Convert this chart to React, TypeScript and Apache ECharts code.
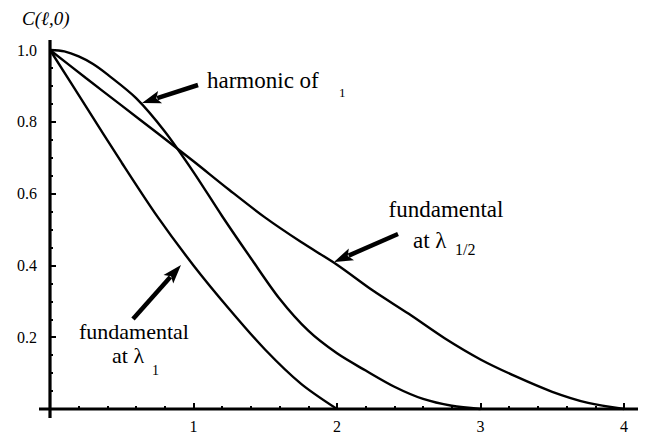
import { useEffect, useRef } from "react";
import * as echarts from "echarts";

// Curve data (x = ℓ, y = C(ℓ,0))
const fundamental1X = [0, 0.25, 0.5, 0.75, 1, 1.25, 1.5, 1.75, 2];
const fundamental1Y = [1, 0.843, 0.686, 0.535, 0.4, 0.278, 0.165, 0.07, 0];

const harmonicX = [0, 0.1, 0.2, 0.3, 0.4, 0.6, 0.8, 1.0, 1.2, 1.4, 1.6, 1.8, 2.0, 2.2, 2.4, 2.6, 2.8, 3.0];
const harmonicY = [1, 0.996, 0.982, 0.961, 0.932, 0.866, 0.773, 0.66, 0.537, 0.42, 0.307, 0.218, 0.155, 0.107, 0.062, 0.028, 0.009, 0];

const fundamentalHalfX = [0, 0.25, 0.5, 0.75, 1, 1.25, 1.5, 1.75, 2, 2.25, 2.5, 2.75, 3, 3.25, 3.5, 3.75, 4];
const fundamentalHalfY = [1, 0.922, 0.845, 0.768, 0.69, 0.61, 0.533, 0.465, 0.402, 0.33, 0.265, 0.197, 0.138, 0.09, 0.048, 0.017, 0];

const xMin = 0;
const xMax = 4;
const xStep = 1;
const yMin = 0;
const yMax = 1;
const yStep = 0.2;

const SERIF = "Liberation Serif";

function pairs(xs: number[], ys: number[]) {
  return xs.map((x, i) => [x, ys[i]]);
}

function arrow(tx: number, ty: number, hx: number, hy: number) {
  const dx = hx - tx;
  const dy = hy - ty;
  const L = Math.hypot(dx, dy);
  const ux = dx / L;
  const uy = dy / L;
  const headLen = 19;
  const headW = 6.5;
  const bx = hx - ux * headLen;
  const by = hy - uy * headLen;
  const px = -uy;
  const py = ux;
  return [
    {
      type: "line",
      shape: { x1: tx, y1: ty, x2: bx + ux * 3, y2: by + uy * 3 },
      style: { stroke: "#000", lineWidth: 4.5 },
    },
    {
      type: "polygon",
      shape: {
        points: [
          [hx, hy],
          [bx + px * headW, by + py * headW],
          [bx + ux * 4, by + uy * 4],
          [bx - px * headW, by - py * headW],
        ],
      },
      style: { fill: "#000" },
    },
  ];
}

function text(str: string, x: number, y: number, size: number, align: string = "left", italic = false) {
  return {
    type: "text",
    x,
    y,
    style: {
      text: str,
      fill: "#000",
      fontSize: size,
      fontFamily: SERIF,
      fontStyle: italic ? "italic" : "normal",
      textAlign: align,
      textVerticalAlign: "middle",
    },
  };
}

export default function App() {
  const ref = useRef<HTMLDivElement>(null);

  useEffect(() => {
    if (!ref.current) return;
    const chart = echarts.init(ref.current, undefined, { renderer: "svg" });
    const lineStyle = { color: "#000", width: 2.4 };
    chart.setOption({
      animation: false,
      backgroundColor: "#fff",
      textStyle: { fontFamily: SERIF },
      grid: { left: 50, right: 26, top: 50, bottom: 26, containLabel: false },
      xAxis: {
        type: "value",
        min: xMin,
        max: xMax,
        interval: xStep,
        axisLine: { show: false },
        axisTick: { show: true, inside: true, length: 6, lineStyle: { color: "#000", width: 2 } },
        minorTick: { show: true, splitNumber: 5, length: 3, lineStyle: { color: "#000", width: 2 } },
        splitLine: { show: false },
        minorSplitLine: { show: false },
        axisLabel: {
          color: "#000",
          fontSize: 16,
          fontFamily: SERIF,
          margin: 9,
          formatter: (v: number) => (v === 0 ? "" : String(v)),
        },
      },
      yAxis: {
        type: "value",
        min: yMin,
        max: yMax,
        interval: yStep,
        axisLine: { show: false },
        axisTick: { show: true, inside: true, length: 6, lineStyle: { color: "#000", width: 2 } },
        minorTick: { show: true, splitNumber: 4, length: 3, lineStyle: { color: "#000", width: 2 } },
        splitLine: { show: false },
        minorSplitLine: { show: false },
        axisLabel: {
          color: "#000",
          fontSize: 16,
          fontFamily: SERIF,
          margin: 13,
          formatter: (v: number) => (v === 0 ? "" : v.toFixed(1)),
        },
      },
      series: [
        {
          type: "line",
          name: "fundamental at λ1",
          data: pairs(fundamental1X, fundamental1Y),
          showSymbol: false,
          smooth: 0.3,
          clip: false,
          lineStyle,
        },
        {
          type: "line",
          name: "harmonic",
          data: pairs(harmonicX, harmonicY),
          showSymbol: false,
          smooth: 0.3,
          clip: false,
          lineStyle,
        },
        {
          type: "line",
          name: "fundamental at λ1/2",
          data: pairs(fundamentalHalfX, fundamentalHalfY),
          showSymbol: false,
          smooth: 0.3,
          clip: false,
          lineStyle,
        },
      ],
    });

    const o = chart.convertToPixel({ gridIndex: 0 }, [xMin, yMin]) as number[];
    const t = chart.convertToPixel({ gridIndex: 0 }, [xMin, yMax]) as number[];
    const r = chart.convertToPixel({ gridIndex: 0 }, [xMax, yMin]) as number[];

    const graphic: any[] = [
      {
        type: "line",
        shape: { x1: o[0] - 11, y1: o[1], x2: r[0] + 14, y2: o[1] },
        style: { stroke: "#000", lineWidth: 3.2 },
        z: 10,
      },
      {
        type: "line",
        shape: { x1: o[0], y1: t[1] - 10, x2: o[0], y2: o[1] + 9 },
        style: { stroke: "#000", lineWidth: 3.2 },
        z: 10,
      },
      text("C(ℓ,0)", 22, 18, 19, "left", true),
      text("harmonic of", 207, 80.5, 23),
      text("1", 339, 92, 13),
      text("fundamental", 446, 209.5, 23, "center"),
      text("at λ", 413, 240.5, 23),
      text("1/2", 455, 249, 16),
      text("fundamental", 134, 331, 22, "center"),
      text("at λ", 112, 355, 22),
      text("1", 152, 370, 14),
      ...arrow(198, 85, 142, 103),
      ...arrow(398, 234, 334, 262),
      ...arrow(133, 319, 181, 265),
    ];
    chart.setOption({ graphic });

    return () => chart.dispose();
  }, []);

  return (
    <div
      ref={ref}
      style={{ position: "fixed", left: 0, top: 0, width: 650, height: 435, background: "#fff" }}
    />
  );
}
